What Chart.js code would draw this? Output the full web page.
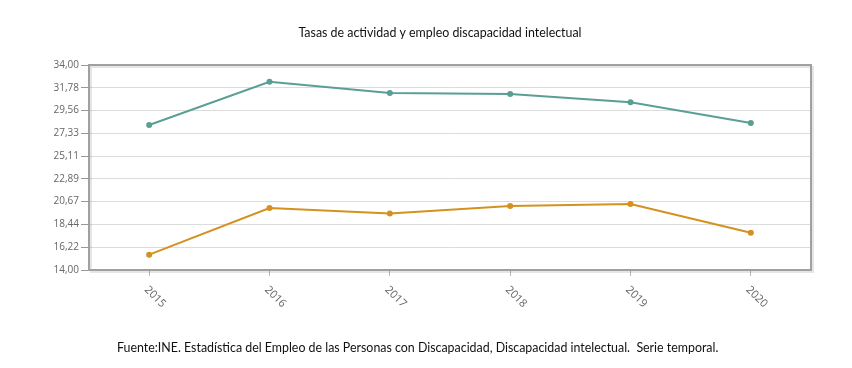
<!DOCTYPE html>
<html>
<head>
<meta charset="utf-8">
<script src="https://cdn.jsdelivr.net/npm/chart.js@4"></script>
<style>
  html, body { margin: 0; padding: 0; background: #fff; }
  #wrap { width: 852px; height: 368px; }
</style>
</head>
<body>
<div id="wrap"><canvas id="tasasChart" width="852" height="368"></canvas></div>
<script>
// datos
var anios = ["2015", "2016", "2017", "2018", "2019", "2020"];
var tasaActividad = [28.15, 32.36, 31.28, 31.16, 30.37, 28.34];
var tasaEmpleo = [15.5, 20.05, 19.52, 20.24, 20.44, 17.63];
var yTicks = [14, 16.22, 18.44, 20.67, 22.89, 25.11, 27.33, 29.56, 31.78, 34];

var titulo = "Tasas de actividad y empleo discapacidad intelectual";
var fuente = "Fuente:INE. Estadística del Empleo de las Personas con Discapacidad, Discapacidad intelectual.  Serie temporal.";

// marco del area de dibujo, textos y etiquetas del eje x giradas
var marcoPlugin = {
  id: "marco",
  beforeDatasetsDraw: function (chart) {
    var a = chart.chartArea;
    var ctx = chart.ctx;
    ctx.save();
    ctx.strokeStyle = "rgba(0,0,0,0.10)";
    ctx.lineWidth = 2;
    ctx.strokeRect(a.left + 2, a.top + 2, a.right - a.left, a.bottom - a.top);
    ctx.strokeStyle = "#a0a0a0";
    ctx.lineWidth = 2;
    ctx.strokeRect(a.left, a.top, a.right - a.left, a.bottom - a.top);
    ctx.restore();
  },
  afterDraw: function (chart) {
    var x = chart.scales.x;
    var ctx = chart.ctx;
    ctx.save();
    ctx.fillStyle = "#111";
    ctx.textBaseline = "middle";
    ctx.font = "12.4px Lato";
    ctx.textAlign = "center";
    ctx.fillText(titulo, 440, 33);
    ctx.textAlign = "left";
    ctx.fillText(fuente, 117, 348);

    ctx.font = "11px 'Open Sans'";
    ctx.fillStyle = "#666";
    anios.forEach(function (lbl, i) {
      var px = x.getPixelForValue(i);
      ctx.save();
      ctx.translate(px - 3, x.bottom + 12);
      ctx.rotate(Math.PI / 4);
      ctx.fillText(lbl, 0, 0);
      ctx.restore();
    });
    ctx.restore();
  },
};

var ctx = document.getElementById("tasasChart").getContext("2d");
var tasasChart = new Chart(ctx, {
  type: "line",
  data: {
    labels: anios,
    datasets: [
      {
        label: "Tasa de actividad",
        data: tasaActividad,
        borderColor: "#5a9f96",
        backgroundColor: "#5a9f96",
        borderWidth: 2,
        pointRadius: 3,
        pointBorderWidth: 0,
        tension: 0,
      },
      {
        label: "Tasa de empleo",
        data: tasaEmpleo,
        borderColor: "#d4911f",
        backgroundColor: "#d4911f",
        borderWidth: 2,
        pointRadius: 3,
        pointBorderWidth: 0,
        tension: 0,
      },
    ],
  },
  options: {
    responsive: false,
    animation: false,
    layout: { padding: { left: 0, right: 41, top: 65, bottom: 92 } },
    plugins: {
      legend: { display: false },
      tooltip: { enabled: false },
      title: { display: false },
    },
    scales: {
      x: {
        offset: true,
        grid: {
          drawOnChartArea: false,
          drawTicks: true,
          tickLength: 6,
          color: "#bbb",
        },
        border: { color: "#a0a0a0", width: 2 },
        ticks: { display: false },
      },
      y: {
        min: 14,
        max: 34,
        afterBuildTicks: function (scale) {
          scale.ticks = yTicks.map(function (v) {
            return { value: v };
          });
        },
        afterFit: function (scale) {
          scale.width = 89;
        },
        grid: {
          color: "#dcdcdc",
          tickColor: "#999",
          tickLength: 8,
        },
        border: { color: "#a0a0a0", width: 2 },
        ticks: {
          padding: 2,
          color: "#666",
          font: { family: "Open Sans", size: 10 },
          callback: function (v) {
            return v.toFixed(2).replace(".", ",");
          },
        },
      },
    },
  },
  plugins: [marcoPlugin],
});
</script>
</body>
</html>
